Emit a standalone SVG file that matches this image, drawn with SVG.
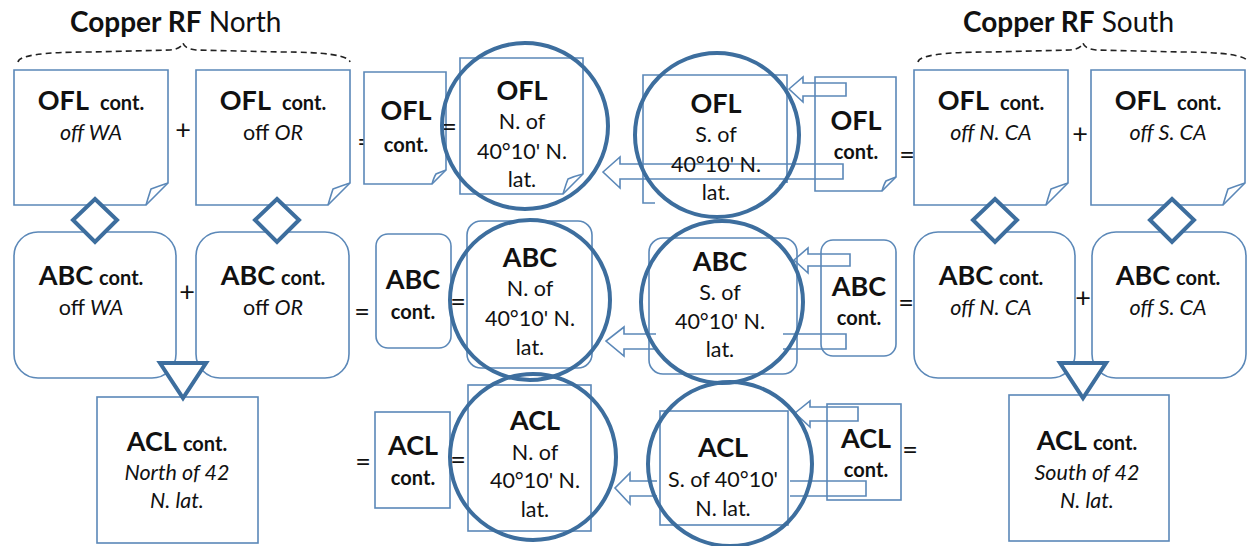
<svg xmlns="http://www.w3.org/2000/svg" width="1248" height="546" viewBox="0 0 1248 546">
<style>
text{font-family:Lato,"Open Sans","Liberation Sans",sans-serif;fill:#111}
.b{font-weight:bold}
.h{font-size:27px}
.s{font-size:20px}
.r{font-size:21.5px}
.i{font-style:italic}
.m{text-anchor:middle}
.box{fill:#fff;stroke:#5b88b8;stroke-width:1.6}
.open{fill:none;stroke:#5b88b8;stroke-width:1.6}
.thick{fill:#fff;stroke:#3d6e9e;stroke-width:4}
.ring{fill:none;stroke:#3d6e9e;stroke-width:4}
.brace{fill:none;stroke:#222;stroke-width:1.6;stroke-dasharray:6 4}
.op{font-size:27px;text-anchor:middle}
</style>
<rect width="1248" height="546" fill="#fff"/>

<g id="title-north"><text x="70" y="32" font-size="28"><tspan class="b">Copper RF</tspan> North</text>
<path class="brace" d="M18,62 Q20,52 90,52 L170,50 Q181,49 183,43 Q185,49 196,50 L280,52 Q348,52 350,62"/></g>
<g id="title-south"><text x="963" y="32" font-size="28"><tspan class="b">Copper RF</tspan> South</text>
<path class="brace" d="M918,62 Q920,52 990,52 L1070,50 Q1081,49 1083,43 Q1085,49 1096,50 L1180,52 Q1246,52 1248,62"/></g>

<g id="connectors">
<path class="open" d="M789,89 L803,77 V83 H846 V96 H803 V102 Z"/>
<path class="open" d="M603,172 L620,157 V164 H843 V179 H620 V188 Z"/>
<path class="open" d="M794,260 L808,248 V254 H850 V266 H808 V273 Z"/>
<path class="open" d="M656,334 H624 V327 L606,341 L624,356 V349 H656 M783,334 H846 V349 H783"/>
<path class="open" d="M795,413 L810,401 V407 H858 V421 H810 V427 Z"/>
<path class="open" d="M657,481 H630 V473 L615,488 L630,504 V496 H657 M790,481 H866 V496 H790"/>
</g>

<!-- OFL row -->
<g id="ofl-wa"><path class="box" d="M14,70 H168 V183 L146,205 H14 Z"/><path class="open" d="M146,205 Q149,195 151,189 Q159,186 168,183"/>
<text x="91" y="110" class="m b"><tspan class="h">OFL</tspan><tspan class="s" dx="11">cont.</tspan></text>
<text x="91" y="140" class="m r i">off WA</text></g>
<text x="183" y="139" class="op">+</text>
<g id="ofl-or"><path class="box" d="M196,70 H350 V183 L328,205 H196 Z"/><path class="open" d="M328,205 Q331,195 333,189 Q341,186 350,183"/>
<text x="273" y="110" class="m b"><tspan class="h">OFL</tspan><tspan class="s" dx="11">cont.</tspan></text>
<text x="273" y="140" class="m r">off <tspan class="i">OR</tspan></text></g>
<text x="365" y="151" class="op">=</text>
<g id="ofl-north-sum"><path class="box" d="M364,72 H446 V170 L432,184 H364 Z"/><path class="open" d="M432,184 Q434,177 436,174 Q441,172 446,170"/>
<text x="406" y="120" class="m b h">OFL</text><text x="406" y="152" class="m b s">cont.</text></g>
<text x="449" y="136" class="op">=</text>
<g id="ofl-n-4010"><path class="box" d="M460,58 H583 V174 L563,194 H460 Z"/><path class="open" d="M563,194 Q566,184 568,179 Q575,176 583,174"/>
<circle class="ring" cx="525" cy="126" r="83"/>
<text x="522" y="100" class="m b h">OFL</text><text x="522" y="129" class="m r">N. of</text><text x="522" y="159" class="m r">40°10' N.</text><text x="522" y="187" class="m r">lat.</text></g>
<g id="ofl-s-4010"><path class="open" d="M655,203 H643 V75 H787 V183 M779,186 L787,181"/>
<circle class="ring" cx="717" cy="135" r="82"/>
<text x="716" y="113" class="m b h">OFL</text><text x="716" y="142" class="m r">S. of</text><text x="716" y="172" class="m r">40°10' N.</text><text x="716" y="200" class="m r">lat.</text></g>
<g id="ofl-south-sum"><path class="open" d="M815,77 H896 V177 L882,191 H815 Z"/><path class="open" d="M882,191 Q884,184 886,181 Q891,179 896,177"/>
<text x="856" y="130" class="m b h">OFL</text><text x="856" y="159" class="m b s">cont.</text></g>
<text x="907" y="164" class="op">=</text>
<g id="ofl-nca"><path class="box" d="M914,70 H1068 V183 L1046,205 H914 Z"/><path class="open" d="M1046,205 Q1049,195 1051,189 Q1059,186 1068,183"/>
<text x="991" y="110" class="m b"><tspan class="h">OFL</tspan><tspan class="s" dx="11">cont.</tspan></text>
<text x="991" y="140" class="m r i">off N. CA</text></g>
<text x="1080" y="143" class="op">+</text>
<g id="ofl-sca"><path class="box" d="M1091,70 H1245 V183 L1223,205 H1091 Z"/><path class="open" d="M1223,205 Q1226,195 1228,189 Q1236,186 1245,183"/>
<text x="1168" y="110" class="m b"><tspan class="h">OFL</tspan><tspan class="s" dx="11">cont.</tspan></text>
<text x="1168" y="140" class="m r i">off S. CA</text></g>

<!-- ABC row -->
<g id="abc-wa"><rect class="box" x="14" y="232" width="162" height="146" rx="24"/>
<text x="91" y="285" class="m b"><tspan class="h">ABC</tspan><tspan class="s" dx="6">cont.</tspan></text>
<text x="91" y="315" class="m r">off <tspan class="i">WA</tspan></text></g>
<text x="187" y="301" class="op">+</text>
<g id="abc-or"><rect class="box" x="196" y="232" width="153" height="146" rx="24"/>
<text x="273" y="285" class="m b"><tspan class="h">ABC</tspan><tspan class="s" dx="6">cont.</tspan></text>
<text x="273" y="315" class="m r">off <tspan class="i">OR</tspan></text></g>
<text x="362" y="321" class="op">=</text>
<g id="abc-north-sum"><rect class="box" x="376" y="234" width="75" height="114" rx="12"/>
<text x="413" y="289" class="m b h">ABC</text><text x="413" y="319" class="m b s">cont.</text></g>
<text x="458" y="311" class="op">=</text>
<g id="abc-n-4010"><rect class="box" x="467" y="221" width="125" height="147" rx="14"/>
<circle class="ring" cx="530" cy="300" r="80"/>
<text x="530" y="267" class="m b h">ABC</text><text x="530" y="296" class="m r">N. of</text><text x="530" y="326" class="m r">40°10' N.</text><text x="530" y="355" class="m r">lat.</text></g>
<g id="abc-s-4010"><rect class="open" x="649" y="238" width="148" height="136" rx="14"/>
<circle class="ring" cx="722" cy="302" r="81"/>
<text x="720" y="271" class="m b h">ABC</text><text x="720" y="300" class="m r">S. of</text><text x="720" y="329" class="m r">40°10' N.</text><text x="720" y="357" class="m r">lat.</text></g>
<g id="abc-south-sum"><rect class="open" x="821" y="240" width="75" height="116" rx="12"/>
<text x="859" y="296" class="m b h">ABC</text><text x="859" y="325" class="m b s">cont.</text></g>
<text x="906" y="312" class="op">=</text>
<g id="abc-nca"><rect class="box" x="914" y="232" width="161" height="146" rx="24"/>
<text x="991" y="285" class="m b"><tspan class="h">ABC</tspan><tspan class="s" dx="6">cont.</tspan></text>
<text x="991" y="315" class="m r i">off N. CA</text></g>
<text x="1083" y="307" class="op">+</text>
<g id="abc-sca"><rect class="box" x="1092" y="232" width="154" height="146" rx="24"/>
<text x="1168" y="285" class="m b"><tspan class="h">ABC</tspan><tspan class="s" dx="6">cont.</tspan></text>
<text x="1168" y="315" class="m r i">off S. CA</text></g>

<!-- ACL row -->
<g id="acl-north"><rect class="box" x="97" y="397" width="161" height="146"/>
<text x="177" y="451" class="m b"><tspan class="h">ACL</tspan><tspan class="s" dx="6">cont.</tspan></text>
<text x="177" y="480" class="m r i">North of 42</text><text x="177" y="508" class="m r i">N. lat.</text></g>
<text x="363" y="471" class="op">=</text>
<g id="acl-north-sum"><rect class="box" x="375" y="412" width="75" height="96"/>
<text x="413" y="455" class="m b h">ACL</text><text x="413" y="485" class="m b s">cont.</text></g>
<text x="458" y="469" class="op">=</text>
<g id="acl-n-4010"><rect class="box" x="468" y="385" width="123" height="146"/>
<circle class="ring" cx="533" cy="457" r="83"/>
<text x="535" y="430" class="m b h">ACL</text><text x="535" y="460" class="m r">N. of</text><text x="535" y="488" class="m r">40°10' N.</text><text x="535" y="517" class="m r">lat.</text></g>
<g id="acl-s-4010"><rect class="open" x="660" y="411" width="128" height="114"/>
<circle class="ring" cx="730" cy="464" r="82"/>
<text x="723" y="457" class="m b h">ACL</text><text x="723" y="487" class="m r">S. of 40°10'</text><text x="723" y="516" class="m r">N. lat.</text></g>
<g id="acl-south-sum"><rect class="open" x="827" y="404" width="74" height="96"/>
<text x="866" y="448" class="m b h">ACL</text><text x="866" y="477" class="m b s">cont.</text></g>
<text x="910" y="459" class="op">=</text>
<g id="acl-south"><rect class="box" x="1009" y="395" width="160" height="146"/>
<text x="1087" y="450" class="m b"><tspan class="h">ACL</tspan><tspan class="s" dx="6">cont.</tspan></text>
<text x="1087" y="480" class="m r i">South of 42</text><text x="1087" y="508" class="m r i">N. lat.</text></g>

<!-- diamonds and triangles -->
<g id="diamonds">
<path class="thick" d="M95,199 L117,220 L95,242 L73,220 Z"/>
<path class="thick" d="M277,199 L299,220 L277,242 L255,220 Z"/>
<path class="thick" d="M995,199 L1017,220 L995,242 L973,220 Z"/>
<path class="thick" d="M1172,199 L1194,220 L1172,242 L1150,220 Z"/>
</g>
<g id="triangles">
<path class="thick" d="M160,363 H206 L183,398 Z"/>
<path class="thick" d="M1060,363 H1106 L1083,398 Z"/>
</g>
</svg>
